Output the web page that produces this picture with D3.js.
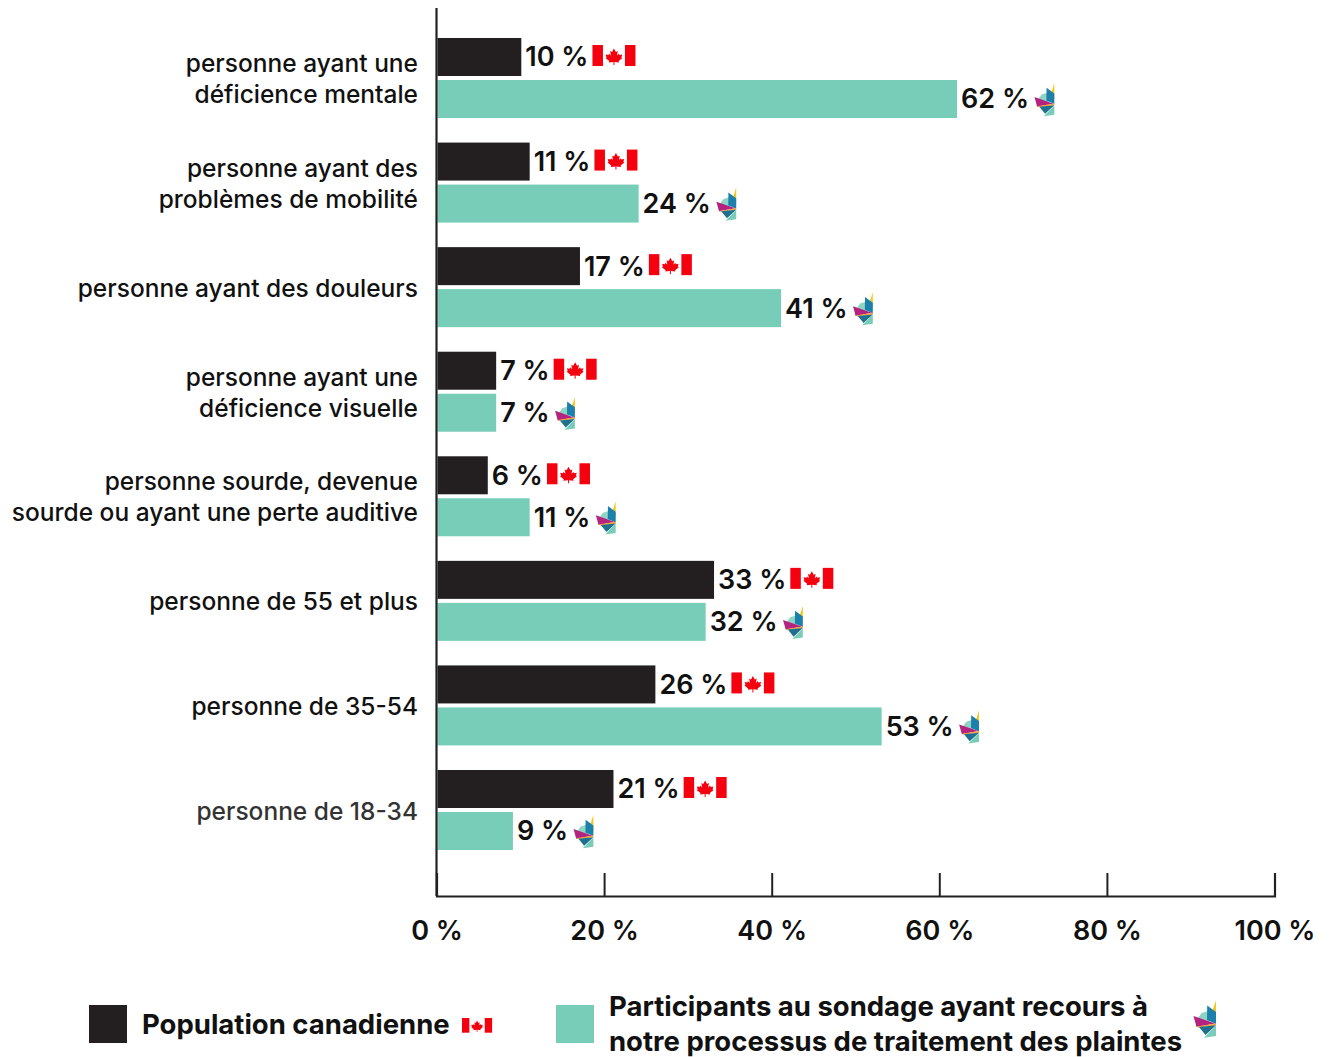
<!DOCTYPE html>
<html lang="fr">
<head>
<meta charset="utf-8">
<script src="https://cdn.jsdelivr.net/npm/d3@7"></script>
<style>
  html, body { margin: 0; padding: 0; background: #fff; }
  svg { display: block; }
  text { font-family: "Inter", "Lato", sans-serif; fill: #111; }
</style>
</head>
<body>
<svg id="chart" width="1330" height="1057"></svg>
<script>
// Groupes, du haut vers le bas
const categories = [
  ["personne ayant une", "déficience mentale"],
  ["personne ayant des", "problèmes de mobilité"],
  ["personne ayant des douleurs"],
  ["personne ayant une", "déficience visuelle"],
  ["personne sourde, devenue", "sourde ou ayant une perte auditive"],
  ["personne de 55 et plus"],
  ["personne de 35-54"],
  ["personne de 18-34"]
];
const canadaValues = [10, 11, 17, 7, 6, 33, 26, 21];
const surveyValues = [62, 24, 41, 7, 11, 32, 53, 9];
const axisTicks = [0, 20, 40, 60, 80, 100];
const seriesKeys = ["canada", "survey"];
const seriesColors = ["#231f20", "#77cdb8"];
const legendCanada = "Population canadienne";
const legendSurvey = ["Participants au sondage ayant recours à", "notre processus de traitement des plaintes"];

const svg = d3.select("#chart");
const x = d3.scaleLinear().domain([0, 100]).range([437.5, 1275.5]);
const groupIds = d3.range(categories.length);
const y = d3.scaleBand().domain(groupIds).range([38, 850]).paddingInner(0.235);
const ySeries = d3.scaleBand().domain(seriesKeys).range([0, y.bandwidth()]).paddingInner(0.095);
const color = d3.scaleOrdinal(seriesKeys, seriesColors);

// Feuille d'érable dessinée dans un drapeau de 43 × 21
const leaf = "M21.5 3.5 L23.4 7 L25.3 6.1 L24.5 10.5 L26.5 8.6 L27 10 L29.8 9.5 L28.9 12.4 L30 13 L26.2 16 L26.6 17.4 L22 16.9 L22 20 L21 20 L21 16.9 L16.4 17.4 L16.8 16 L13 13 L14.1 12.4 L13.2 9.5 L16 10 L16.5 8.6 L18.5 10.5 L17.7 6.1 L19.6 7 Z";

function drawFlag(parent, px, py, scale) {
  const g = parent.append("g").attr("transform", `translate(${px},${py}) scale(${scale})`);
  g.append("rect").attr("width", 43).attr("height", 21).attr("fill", "#fff");
  g.append("rect").attr("width", 10.5).attr("height", 21).attr("fill", "#f5000f");
  g.append("rect").attr("x", 32.5).attr("width", 10.5).attr("height", 21).attr("fill", "#f5000f");
  g.append("path").attr("d", leaf).attr("fill", "#f5000f");
}

// Emblème à facettes du sondage
const emblem = [
  ["#f6c51b", "23,0 19.5,11 23,19"],
  ["#8fd3c3", "8.5,13 15,11 17,22 3,21"],
  ["#1b80ab", "14.2,5.5 23,12 23,24 14,20"],
  ["#b3237f", "0.5,16 22,23.5 3.5,27"],
  ["#f2a33a", "3.5,26.5 23,23.4 23,25.4 5.5,27.6"],
  ["#1f6f8f", "6,27 23,25.3 12.5,35"],
  ["#77cdb8", "23,25.6 23,36 11,37.7"]
];
function drawEmblem(parent, px, py, scale) {
  const g = parent.append("g").attr("transform", `translate(${px},${py}) scale(${scale})`);
  emblem.forEach(([fill, points]) => g.append("polygon").attr("points", points).attr("fill", fill));
}

// Barres et étiquettes de valeur
const rows = svg.append("g").selectAll("g").data(groupIds).join("g")
  .attr("transform", i => `translate(0,${y(i)})`);

rows.each(function (i) {
  const row = d3.select(this);
  [[seriesKeys[0], canadaValues[i]], [seriesKeys[1], surveyValues[i]]].forEach(([key, value]) => {
    row.append("rect")
      .attr("x", x(0))
      .attr("y", ySeries(key))
      .attr("width", x(value) - x(0))
      .attr("height", ySeries.bandwidth())
      .attr("fill", color(key));
    const cy = ySeries(key) + ySeries.bandwidth() / 2;
    const label = row.append("text")
      .attr("x", x(value) + 4)
      .attr("y", cy)
      .attr("dy", "0.35em")
      .attr("font-size", 27)
      .attr("font-weight", 600)
      .text(`${value} %`);
    const end = x(value) + 4 + label.node().getComputedTextLength();
    if (key === "canada") drawFlag(row, end + 4, cy - 12, 1);
    else drawEmblem(row, end + 5, cy - 16, 0.88);
  });

  // Libellé du groupe, centré sur ses deux barres
  const lines = categories[i];
  const text = row.append("text")
    .attr("text-anchor", "end")
    .attr("font-size", 24.5)
    .attr("font-weight", 500)
    .style("fill", i === categories.length - 1 ? "#333" : "#111");
  lines.forEach((line, k) => {
    text.append("tspan")
      .attr("x", 418)
      .attr("y", y.bandwidth() / 2 + 1 + (k - (lines.length - 1) / 2) * 31)
      .attr("dy", "0.35em")
      .text(line);
  });
});

// Axes
const axis = svg.append("g")
  .attr("transform", "translate(-1,896)")
  .call(d3.axisBottom(x).tickValues(axisTicks).tickFormat(d => `${d} %`).tickSize(-23).tickPadding(25));
axis.select(".domain").attr("stroke", "#222").attr("stroke-width", 2.2);
axis.selectAll(".tick line").attr("stroke", "#222").attr("stroke-width", 2);
axis.selectAll(".tick text")
  .attr("font-size", 27).attr("font-weight", 600)
  .style("font-family", '"Inter", "Lato", sans-serif').style("fill", "#111");
svg.append("line")
  .attr("x1", x(0) - 1).attr("x2", x(0) - 1).attr("y1", 8).attr("y2", 896)
  .attr("stroke", "#222").attr("stroke-width", 2.2);

// Légende
const legend = svg.append("g");
legend.append("rect").attr("x", 89).attr("y", 1005).attr("width", 38).attr("height", 38).attr("fill", seriesColors[0]);
legend.append("text").attr("x", 142).attr("y", 1024).attr("dy", "0.35em")
  .attr("font-size", 27.5).attr("font-weight", 700).text(legendCanada);
drawFlag(legend, 462, 1018, 0.7);
legend.append("rect").attr("x", 556).attr("y", 1005).attr("width", 38).attr("height", 38).attr("fill", seriesColors[1]);
legendSurvey.forEach((line, k) => {
  legend.append("text").attr("x", 609).attr("y", 1006 + k * 35).attr("dy", "0.35em")
    .attr("font-size", 27.5).attr("font-weight", 700).text(line);
});
drawEmblem(legend, 1193, 1000, 1);
</script>
</body>
</html>
